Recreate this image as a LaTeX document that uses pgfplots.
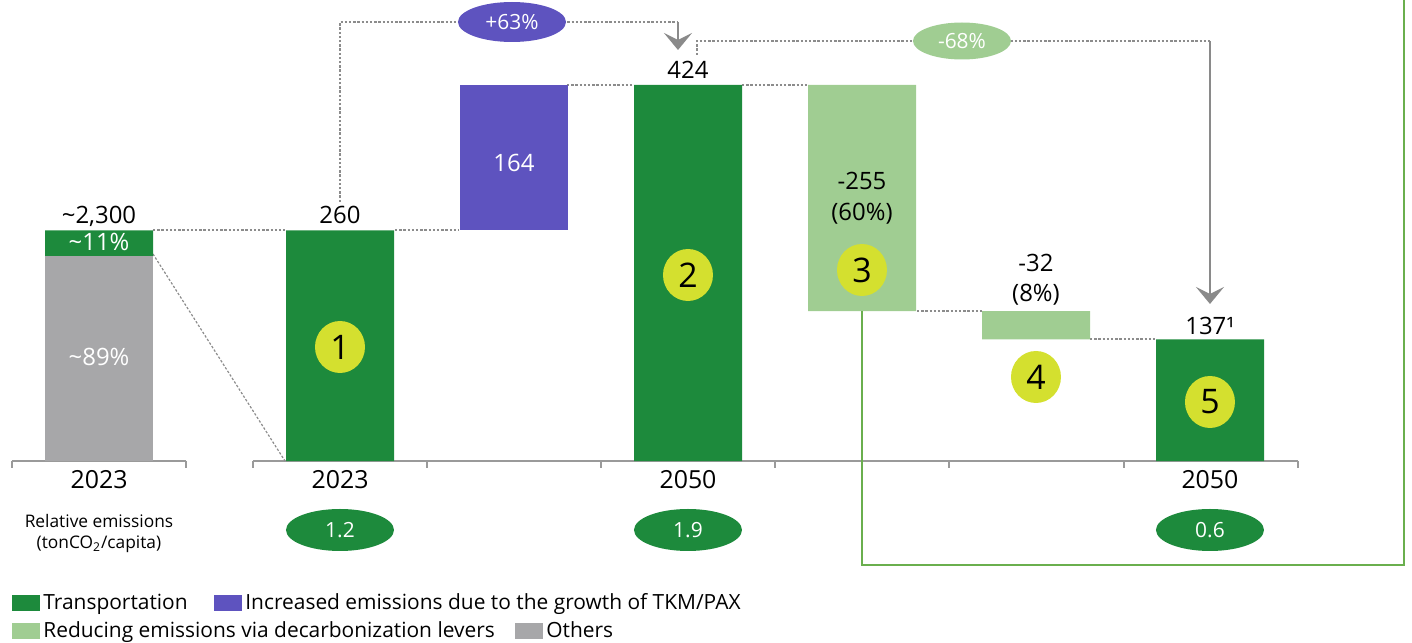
\documentclass[border=0pt]{standalone}
\usepackage{fontspec}
\setmainfont{Open Sans}
\usepackage{pgfplots}
\pgfplotsset{compat=1.18}
\usetikzlibrary{shapes.geometric, arrows.meta}

\definecolor{cTr}{HTML}{1D8A3C}
\definecolor{cInc}{HTML}{5E53BF}
\definecolor{cRed}{HTML}{A0CD92}
\definecolor{cOth}{HTML}{A7A7A9}
\definecolor{cYel}{HTML}{D4E02F}
\definecolor{cBox}{HTML}{6AAF4E}
\definecolor{cArr}{HTML}{8A8A8A}
\definecolor{cDot}{HTML}{8C8C8C}
\definecolor{cAx}{HTML}{9A9A9A}

\newcommand{\fs}[1]{\fontsize{#1}{#1}\selectfont}

\begin{document}
\begin{tikzpicture}
\useasboundingbox (0bp,0bp) rectangle (706bp,-321.5bp);
\begin{scope}[x=0.5bp,y=-0.5bp]
% baselines
\draw[cAx, line width=0.75bp] (12,461) -- (186,461);
\foreach \t in {12,186} \draw[cAx, line width=0.75bp] (\t,461) -- (\t,468);
\draw[cAx, line width=0.75bp] (253,461) -- (1298,461);
\foreach \t in {253,427,601,775,949,1124,1298} \draw[cAx, line width=0.75bp] (\t,461) -- (\t,468);
% dotted connectors
\tikzset{dotline/.style={draw=cDot, line width=0.6bp, dash pattern=on 1.2bp off 0.9bp}}
\draw[dotline] (153,230) -- (285,230);
\draw[dotline] (153,254) -- (285,461);
\draw[dotline] (395,230) -- (459,230);
\draw[dotline] (567,85) -- (634,85);
\draw[dotline] (742,85) -- (807,85);
\draw[dotline] (917,311) -- (982,311);
\draw[dotline] (1090,339) -- (1157,339);
\draw[dotline] (340,202) -- (340,22) -- (678,22);
\draw[dotline] (697,55) -- (697,41) -- (1210,41);
\end{scope}

\begin{axis}[
  at={(83bp,-230.5bp)}, anchor=origin,
  x=87bp, y=0.4435bp,
  xmin=-0.885, xmax=6.5, ymin=0, ymax=515,
  hide axis, clip=false,
  ybar stacked, bar width=54bp,
]
\addplot[draw=none, fill=none] coordinates {(-0.385,0) (1,0) (2,260) (3,0) (4,169) (5,137) (6,0)};
\addplot[fill=cOth, draw=none] coordinates {(-0.385,231.4) (1,0) (2,0) (3,0) (4,0) (5,0) (6,0)};
\addplot[fill=cTr, draw=none] coordinates {(-0.385,28.6) (1,260) (2,0) (3,424) (4,0) (5,0) (6,137)};
\addplot[fill=cInc, draw=none] coordinates {(-0.385,0) (1,0) (2,164) (3,0) (4,0) (5,0) (6,0)};
\addplot[fill=cRed, draw=none] coordinates {(-0.385,0) (1,0) (2,0) (3,0) (4,255) (5,32) (6,0)};
\end{axis}

\begin{scope}[x=0.5bp,y=-0.5bp]
% arrows
\draw[cArr, line width=1bp, -{Stealth[length=8.5bp,width=14bp,inset=3.5bp]}] (678,22) -- (678,50);
\draw[cArr, line width=1bp, -{Stealth[length=8.5bp,width=14bp,inset=3.5bp]}] (1210,41) -- (1210,304);
% green box
\draw[cBox, line width=1.25bp] (862,311) -- (862,565) -- (1404,565) -- (1404,0);
% top ellipses
\node[ellipse, fill=cInc, minimum width=54bp, minimum height=20bp, inner sep=0, text=white, font=\fs{10.5}] at (512,22) {+63\%};
\node[ellipse, fill=cRed, minimum width=49bp, minimum height=18.5bp, inner sep=0, text=white, font=\fs{10.5}] at (962,41) {-68\%};
% value labels
\tikzset{vl/.style={anchor=base, inner sep=0, font=\fs{12}}}
\node[vl] at (99,224) {\textasciitilde 2,300};
\node[vl, text=white] at (99,251) {\textasciitilde 11\%};
\node[vl, text=white] at (99,366) {\textasciitilde 89\%};
\node[vl] at (340,224) {260};
\node[vl, text=white] at (514,172) {164};
\node[vl] at (688,79) {424};
\node[vl] at (862,190) {-255};
\node[vl] at (862,221) {(60\%)};
\node[vl] at (1036,272) {-32};
\node[vl] at (1036,302) {(8\%)};
\node[vl] at (1210,335) {137¹};
% tick labels
\node[vl, font=\fs{12.5}] at (99,489) {2023};
\node[vl, font=\fs{12.5}] at (340,489) {2023};
\node[vl, font=\fs{12.5}] at (688,489) {2050};
\node[vl, font=\fs{12.5}] at (1210,489) {2050};
\node[anchor=base, inner sep=0, font=\fs{8.7}] at (99,528) {Relative emissions};
\node[anchor=base, inner sep=0, font=\fs{8.7}] at (99,549) {(tonCO\textsubscript{2}/capita)};
% per-capita ellipses
\foreach \xx/\vv in {340/1.2, 688/1.9, 1210/0.6}
  \node[ellipse, fill=cTr, minimum width=54bp, minimum height=21bp, inner sep=0, text=white, font=\fs{10.5}] at (\xx,530) {\vv};
% numbered circles
\foreach \xx/\yy/\nn in {340/347/1, 688/275/2, 862/270/3, 1036/377/4, 1210/402/5}
  \node[ellipse, fill=cYel, minimum width=25bp, minimum height=26bp, inner sep=0, font=\fs{17}] at (\xx,\yy) {\nn};
% legend
\fill[cTr] (12,595) rectangle (40,611);
\node[anchor=base west, inner sep=0, font=\fs{10.5}] at (43,610) {Transportation};
\fill[cInc] (214,595) rectangle (242,611);
\node[anchor=base west, inner sep=0, font=\fs{10.5}] at (245,610) {Increased emissions due to the growth of TKM/PAX};
\fill[cRed] (12,623) rectangle (40,639);
\node[anchor=base west, inner sep=0, font=\fs{10.5}] at (43,638) {Reducing emissions via decarbonization levers};
\fill[cOth] (515,623) rectangle (543,639);
\node[anchor=base west, inner sep=0, font=\fs{10.5}] at (546,638) {Others};
\end{scope}
\end{tikzpicture}
\end{document}
